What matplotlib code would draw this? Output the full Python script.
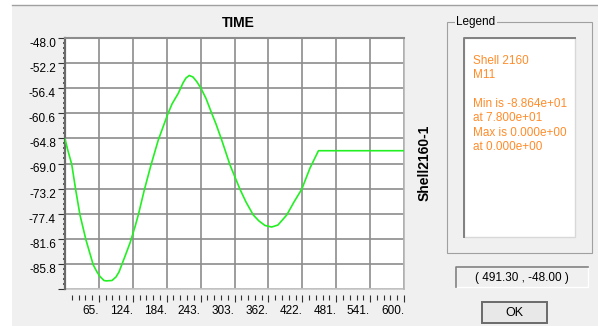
import numpy as np
import matplotlib
matplotlib.use('Agg')
import matplotlib.pyplot as plt
from matplotlib.patches import Rectangle
from matplotlib.ticker import FixedLocator

plt.rcParams['font.family'] = ['Liberation Sans', 'DejaVu Sans']

# data
time = [5.5, 10.8, 17.3, 24.3, 31.8, 42.3, 55.1, 61.6, 66.9, 73.9, 78.0, 84.0,
        87.9, 94.9, 100.2, 104.9, 111.6, 119.5, 128.3, 134.0, 144.6, 156.3,
        169.1, 185.6, 193.2, 204.2, 212.4, 217.7, 223.5, 230.0, 237.0, 244.0,
        252.8, 262.8, 270.3, 280.3, 294.9, 312.4, 322.9, 335.7, 345.7, 356.2,
        368.0, 379.0, 394.3, 407.1, 420.6, 435.2, 450.0, 600.0]
m11 = [-64.90, -66.91, -69.13, -73.43, -77.62, -81.80, -85.98, -87.15, -87.91,
       -88.58, -88.64, -88.60, -88.58, -87.99, -87.15, -85.98, -84.31, -82.30,
       -79.58, -77.62, -73.43, -69.25, -65.07, -60.77, -59.04, -57.25, -55.53,
       -54.69, -54.27, -54.53, -55.36, -56.42, -58.12, -60.60, -62.39, -65.07,
       -69.25, -73.32, -75.44, -77.62, -78.62, -79.37, -79.63, -79.29, -77.62,
       -75.44, -73.32, -69.75, -66.86, -66.86]

x_labels = ['65.', '124.', '184.', '243.', '303.', '362.', '422.', '481.', '541.', '600.']
y_labels = ['-48.0', '-52.2', '-56.4', '-60.6', '-64.8', '-69.0', '-73.2', '-77.4', '-81.6', '-85.8']
x_min, x_max = 5.5, 600.0
y_min, y_max = -90.0, -48.0

legend_lines = ['Shell 2160', 'M11', '', 'Min is -8.864e+01', 'at 7.800e+01',
                'Max is 0.000e+00', 'at 0.000e+00']
cursor_text = '( 491.30 , -48.00 )'

W, H = 598, 326
fig = plt.figure(figsize=(W / 100, H / 100), dpi=100, facecolor='white')

# background layer in pixel coords (dialog pieces)
bg = fig.add_axes([0, 0, 1, 1], zorder=-1)
bg.set_xlim(0, W)
bg.set_ylim(H, 0)
bg.axis('off')
bg.add_patch(Rectangle((12, 5), W - 12, H - 5, facecolor='#f0f0f0', edgecolor='none'))
bg.plot([12, W], [5, 5], color='#a0a0a0', lw=1)

# legend group box
bg.add_patch(Rectangle((447, 22), 145, 231, facecolor='none', edgecolor='#a0a0a0', lw=0.8))
bg.text(456, 22, 'Legend', fontsize=8.5, va='center', ha='left', color='black',
        bbox=dict(facecolor='#f0f0f0', edgecolor='none', pad=1))
bg.add_patch(Rectangle((464, 38), 111, 199, facecolor='white', edgecolor='#d8d8d8', lw=1))
bg.plot([464, 464, 575], [237, 38, 38], color='#808080', lw=1.4)
for i, line in enumerate(legend_lines):
    bg.text(473, 61 + i * 14.3, line, fontsize=8.5, color='#ff8c2a', va='center', ha='left')

# cursor readout box
bg.add_patch(Rectangle((456, 267), 132, 20, facecolor='#f0f0f0', edgecolor='white', lw=1))
bg.plot([456, 456, 588], [287, 267, 267], color='#808080', lw=1.2)
bg.text(522, 277.5, cursor_text, fontsize=8.5, ha='center', va='center')

# OK button
bg.add_patch(Rectangle((482, 302), 65, 21, facecolor='#e8e8e8', edgecolor='#6a6a6a', lw=1.4))
bg.text(514.5, 313, 'OK', fontsize=9, ha='center', va='center')

# titles
bg.text(238, 23, 'TIME', fontsize=10, fontweight='bold', ha='center', va='center')
bg.text(425, 163, 'Shell2160-1', fontsize=10, fontweight='bold', rotation=90,
        ha='center', va='center')

# plot area
left, right, top, bottom = 65, 404, 38, 289
ax = fig.add_axes([left / W, 1 - bottom / H, (right - left) / W, (bottom - top) / H])
ax.set_facecolor('white')
ax.plot(time, m11, color='#22f022', lw=1.2, zorder=3, solid_joinstyle='round')
ax.set_xlim(x_min, x_max)
ax.set_ylim(y_min, y_max)

xt = np.linspace(x_min, x_max, 11)[1:]
yt = np.linspace(y_max, y_min, 11)
ax.xaxis.set_major_locator(FixedLocator(xt))
ax.set_xticklabels(x_labels)
ax.xaxis.set_minor_locator(FixedLocator(np.linspace(x_min, x_max, 51)[1:]))
ax.yaxis.set_major_locator(FixedLocator(yt))
ax.set_yticklabels(y_labels + [''])
ax.yaxis.set_minor_locator(FixedLocator(np.linspace(y_min, y_max, 51)))

ax.grid(True, which='major', color='#8c8c8c', lw=1.2)
ax.axhline(y_min, color='#c8c8c8', lw=1.2, zorder=2, clip_on=False)

ax.spines['bottom'].set_position(('outward', 4.5))
ax.spines['bottom'].set_color('none')
ax.spines['top'].set_color('#8c8c8c')
ax.spines['top'].set_linewidth(1.5)
ax.spines['right'].set_color('#b4b4b4')
ax.spines['right'].set_linewidth(1.2)
ax.spines['left'].set_color('#6a6a6a')
ax.spines['left'].set_linewidth(1.6)

ax.tick_params(axis='x', which='major', length=5, width=0.8, color='#303030',
               labelsize=8.5, pad=2)
ax.tick_params(axis='x', which='minor', length=3.6, width=0.8, color='#303030')
ax.tick_params(axis='y', which='major', length=5, width=0.8, color='#303030',
               labelsize=8.5, pad=1.5)
ax.tick_params(axis='y', which='minor', length=1.8, width=1.1, color='#303030')
for lab in ax.get_xticklabels():
    lab.set_ha('right')
for lab in ax.get_yticklabels():
    lab.set_va('top')

fig.savefig('out.png', dpi=100, facecolor=fig.get_facecolor())
